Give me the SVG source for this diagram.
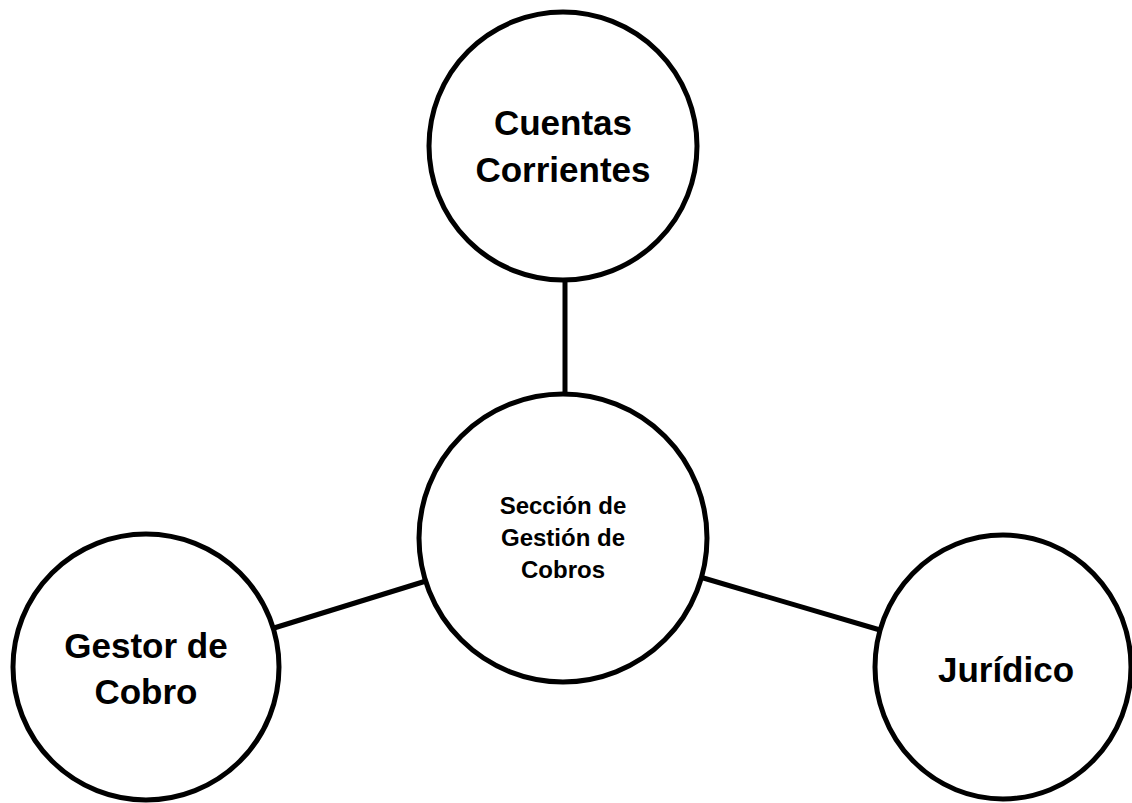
<svg xmlns="http://www.w3.org/2000/svg" width="1132" height="803" viewBox="0 0 1132 803">
<style>
.node{fill:#fff;stroke:#000;stroke-width:5}
.edge{stroke:#000;stroke-width:5;fill:none}
.lbl{font-family:"Liberation Sans",Arial,sans-serif;font-weight:bold;fill:#000;text-anchor:middle}
.big{font-size:35px}
.small{font-size:24px}
</style>
<rect width="1132" height="803" fill="#fff"/>
<g id="connectors">
<line class="edge" x1="565" y1="275" x2="565" y2="398"/>
<line class="edge" x1="274" y1="628" x2="426" y2="581"/>
<line class="edge" x1="700" y1="577" x2="880" y2="630"/>
</g>
<g id="node-cuentas">
<circle class="node" cx="563" cy="146" r="134"/>
<text class="lbl big" x="563" y="135">Cuentas</text>
<text class="lbl big" x="563" y="182">Corrientes</text>
</g>
<g id="node-seccion">
<circle class="node" cx="563" cy="538" r="144"/>
<text class="lbl small" x="563" y="514">Sección de</text>
<text class="lbl small" x="563" y="546">Gestión de</text>
<text class="lbl small" x="563" y="578">Cobros</text>
</g>
<g id="node-gestor">
<circle class="node" cx="146" cy="667" r="133"/>
<text class="lbl big" x="146" y="658">Gestor de</text>
<text class="lbl big" x="146" y="704">Cobro</text>
</g>
<g id="node-juridico">
<ellipse class="node" cx="1003" cy="667" rx="128" ry="132"/>
<text class="lbl big" x="1006" y="682">Jurídico</text>
</g>
</svg>
